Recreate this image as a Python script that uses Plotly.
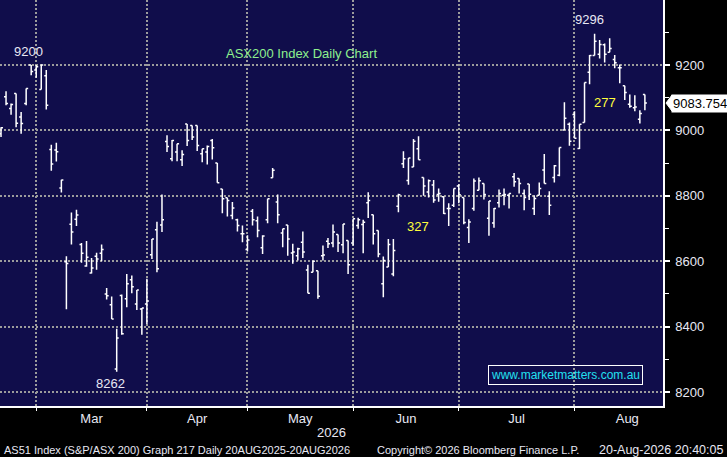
import pandas as pd
import plotly.graph_objects as go

# ---------------- data ----------------
holidays = ["2026-04-03", "2026-04-06", "2026-06-08"]
dates = pd.bdate_range("2026-02-18", "2026-08-20", freq="C", holidays=holidays)

open_ = [8990, 9103, 9067, 9113, 9041, 9082, 9200, 9185, 9125, 9167,
         8942, 8940, 8824, 8598, 8713, 8728, 8651, 8585, 8564, 8615,
         8624, 8500, 8467, 8270, 8495, 8485, 8543, 8469, 8454, 8469,
         8620, 8696, 8711, 8966, 8913, 8934, 8910, 9020, 9015, 9015,
         8929, 8934, 8969, 8900, 8821, 8794, 8740, 8727, 8684, 8636,
         8753, 8724, 8641, 8727, 8855, 8781, 8686, 8711, 8625, 8617,
         8658, 8573, 8566, 8571, 8617, 8661, 8656, 8682, 8650, 8663,
         8656, 8709, 8712, 8779, 8742, 8694, 8531, 8582, 8561, 8768,
         8898, 8847, 8888, 8944, 8856, 8812, 8833, 8804, 8797, 8761,
         8771, 8830, 8795, 8703, 8761, 8817, 8838, 8731, 8717, 8779,
         8802, 8802, 8858, 8853, 8807, 8836, 8761, 8802, 8879, 8799,
         8856, 8863, 9001, 9019, 9049, 8945, 9024, 9178, 9229, 9233,
         9262, 9239, 9217, 9192, 9137, 9080, 9069, 9034, 9110]
high = [9010, 9120, 9082, 9113, 9056, 9128, 9200, 9200, 9202, 9185,
        8956, 8962, 8849, 8615, 8749, 8757, 8656, 8662, 8610, 8626,
        8651, 8518, 8492, 8393, 8498, 8561, 8556, 8512, 8457, 8546,
        8668, 8721, 8804, 8985, 8971, 8959, 8939, 9020, 9015, 9015,
        8944, 8954, 8974, 8900, 8821, 8794, 8781, 8730, 8709, 8679,
        8760, 8737, 8679, 8791, 8885, 8804, 8699, 8711, 8653, 8641,
        8691, 8589, 8602, 8571, 8648, 8671, 8712, 8682, 8714, 8663,
        8730, 8733, 8727, 8811, 8742, 8694, 8614, 8668, 8668, 8806,
        8936, 8916, 8974, 8982, 8856, 8850, 8848, 8822, 8799, 8777,
        8822, 8835, 8795, 8728, 8853, 8856, 8838, 8784, 8763, 8819,
        8822, 8807, 8870, 8853, 8819, 8836, 8802, 8841, 8928, 8814,
        8894, 8948, 9086, 9024, 9059, 9019, 9147, 9231, 9296, 9277,
        9266, 9282, 9231, 9202, 9137, 9110, 9108, 9062, 9110]
low = [8980, 9077, 9048, 9010, 8990, 9077, 9169, 9161, 9125, 9064,
       8877, 8905, 8810, 8453, 8651, 8708, 8595, 8583, 8562, 8574,
       8600, 8483, 8423, 8262, 8375, 8459, 8502, 8451, 8375, 8408,
       8607, 8566, 8689, 8934, 8906, 8906, 8891, 8952, 8971, 8937,
       8903, 8896, 8911, 8840, 8747, 8737, 8728, 8691, 8658, 8630,
       8709, 8673, 8622, 8716, 8855, 8716, 8643, 8617, 8592, 8602,
       8610, 8502, 8566, 8485, 8602, 8640, 8643, 8628, 8624, 8561,
       8648, 8699, 8624, 8732, 8651, 8612, 8490, 8582, 8554, 8750,
       8885, 8834, 8888, 8910, 8800, 8795, 8779, 8782, 8744, 8708,
       8766, 8777, 8713, 8656, 8754, 8817, 8789, 8678, 8702, 8764,
       8771, 8761, 8828, 8807, 8756, 8787, 8741, 8802, 8838, 8741,
       8841, 8860, 9001, 8953, 8976, 8943, 9024, 9141, 9229, 9220,
       9208, 9239, 9190, 9144, 9093, 9069, 9059, 9021, 9062]
close = [9008, 9082, 9079, 9022, 9021, 9128, 9180, 9195, 9200, 9077,
         8897, 8935, 8848, 8593, 8689, 8741, 8624, 8612, 8579, 8607,
         8636, 8494, 8423, 8365, 8378, 8531, 8522, 8512, 8457, 8478,
         8668, 8577, 8727, 8951, 8969, 8959, 8926, 8969, 8980, 8954,
         8944, 8951, 8947, 8840, 8791, 8786, 8763, 8709, 8684, 8665,
         8727, 8694, 8677, 8791, 8878, 8742, 8699, 8668, 8628, 8638,
         8628, 8502, 8600, 8493, 8619, 8653, 8689, 8656, 8714, 8589,
         8730, 8727, 8719, 8786, 8684, 8622, 8602, 8651, 8633, 8803,
         8913, 8916, 8967, 8910, 8830, 8846, 8787, 8807, 8746, 8761,
         8822, 8803, 8718, 8720, 8845, 8846, 8804, 8784, 8761, 8807,
         8804, 8807, 8843, 8838, 8795, 8805, 8792, 8822, 8838, 8771,
         8892, 8948, 9037, 8967, 8976, 9019, 9147, 9229, 9273, 9263,
         9233, 9251, 9207, 9192, 9116, 9074, 9072, 9052, 9083.754]

month_labels = ["Mar", "Apr", "May", "Jun", "Jul", "Aug"]
y_ticks = [8200, 8400, 8600, 8800, 9000, 9200]
last_price_text = "9083.754"

# ---------------- derived positions ----------------
idx = list(range(len(dates)))
month_id = [d.year * 12 + d.month for d in dates]
# gridline on the last trading day of each month
grid_idx = [i for i in range(len(dates) - 1) if month_id[i + 1] != month_id[i]]
label_pos = []
for k, g in enumerate(grid_idx):
    nxt = grid_idx[k + 1] if k + 1 < len(grid_idx) else g + 21
    label_pos.append((g + nxt) / 2)

BG = "#100d4b"
GRID = "#9c9c9c"
TXT = "#e8e8f4"
FONT = "Liberation Sans"

fig = go.Figure()
fig.add_trace(go.Ohlc(
    x=idx, open=open_, high=high, low=low, close=close,
    increasing=dict(line=dict(color="white", width=1.5)),
    decreasing=dict(line=dict(color="white", width=1.5)),
    tickwidth=0.4, hoverinfo="skip", showlegend=False,
))

fig.update_layout(
    width=727, height=457,
    margin=dict(l=0, r=64, t=0, b=51),
    paper_bgcolor="black", plot_bgcolor=BG,
    font=dict(family=FONT, size=13, color=TXT),
    showlegend=False,
    xaxis=dict(
        range=[-0.2, 131.6], rangeslider=dict(visible=False),
        tickmode="array", tickvals=label_pos, ticktext=month_labels,
        ticks="", showgrid=False, zeroline=False,
        showline=True, linecolor="white", linewidth=1.5,
        tickfont=dict(size=13, color=TXT),
        minor=dict(tickmode="array", tickvals=grid_idx, ticks="outside",
                   ticklen=3, tickcolor="white", tickwidth=1,
                   showgrid=True, gridcolor=GRID, gridwidth=2, griddash="2px,2px"),
    ),
    yaxis=dict(
        range=[8157, 9399], side="right",
        tickmode="array", tickvals=y_ticks,
        ticks="outside", ticklen=5, tickwidth=2, tickcolor="white",
        showgrid=True, gridcolor=GRID, gridwidth=2, griddash="2px,2px",
        zeroline=False, showline=True, linecolor="white", linewidth=1.5,
        tickfont=dict(size=13, color=TXT), ticklabelstandoff=3,
        minor=dict(dtick=100, tick0=8100, ticks="outside", ticklen=4,
                   tickcolor="white", tickwidth=1, showgrid=False),
    ),
)

def ann(text, x, y, color=TXT, size=13, xanchor="center", **kw):
    fig.add_annotation(text=text, x=x, y=y, xref="paper", yref="paper",
                       showarrow=False, xanchor=xanchor, yanchor="middle",
                       font=dict(family=FONT, size=size, color=color), **kw)

def px(xp, yp):
    return xp / 663.0, (406.0 - yp) / 406.0

ann("9200", *px(28, 52))
ann("8262", *px(110, 383))
ann("9296", *px(589, 19))
ann("ASX200 Index Daily Chart", *px(301, 53), color="#8ef08e")
ann("327", *px(418, 227), color="#ffff3c")
ann("277", *px(605, 102), color="#ffff3c")
ann("www.marketmatters.com.au", *px(565, 375), color="#22e0f0", size=12,
    bordercolor="white", borderwidth=1, borderpad=2)
ann("2026", *px(331, 432))
ann("AS51 Index (S&P/ASX 200) Graph 217 Daily 20AUG2025-20AUG2026", *px(2, 450),
    size=11, xanchor="left")
ann("Copyright\u00a9 2026 Bloomberg Finance L.P.", *px(375, 450), size=11, xanchor="left")
ann("20-Aug-2026 20:40:05", *px(725, 450), size=12.5, xanchor="right")

# last price tag
fig.add_shape(type="path", xref="paper", yref="y", xsizemode="pixel", ysizemode="pixel",
              xanchor=1, yanchor=close[-1], path="M 3 0 L 9 8 L 9 -8 Z",
              fillcolor="white", line=dict(color="white", width=1), layer="above")
fig.add_annotation(text=last_price_text, x=1, y=close[-1], xref="paper", yref="y",
                   showarrow=False, xanchor="left", yanchor="middle", xshift=8,
                   bgcolor="white", borderpad=1,
                   font=dict(family=FONT, size=13, color="black"))

fig.write_html("out.html", config={"displayModeBar": False},
               post_script="document.body.style.margin='0px';")
